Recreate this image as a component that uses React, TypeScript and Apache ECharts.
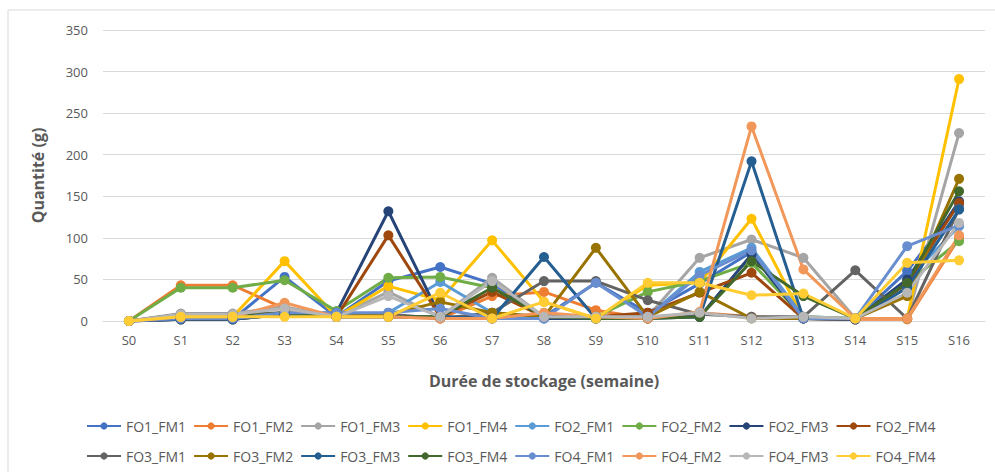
import React, { useEffect, useRef } from "react";
import * as echarts from "echarts";

const categories = ["S0","S1","S2","S3","S4","S5","S6","S7","S8","S9","S10","S11","S12","S13","S14","S15","S16"];
const yTicks = [0, 50, 100, 150, 200, 250, 300, 350];

const seriesNames = [
  "FO1_FM1","FO1_FM2","FO1_FM3","FO1_FM4","FO2_FM1","FO2_FM2","FO2_FM3","FO2_FM4",
  "FO3_FM1","FO3_FM2","FO3_FM3","FO3_FM4","FO4_FM1","FO4_FM2","FO4_FM3","FO4_FM4",
];
const seriesColors = [
  "#4472C4","#ED7D31","#A5A5A5","#FFC000","#5B9BD5","#70AD47","#264478","#9E480E",
  "#636363","#997300","#255E91","#43682B","#698ED0","#F1975A","#B7B7B7","#FFCD33",
];

const FO1_FM1 = [0, 2, 2, 53, 5, 48, 65, 45, 5, 46, 10, 45, 83, 3, 2, 60, 140];
const FO1_FM2 = [0, 43, 43, 15, 5, 5, 3, 30, 35, 13, 3, 10, 5, 3, 2, 2, 100];
const FO1_FM3 = [0, 9, 9, 17, 5, 35, 5, 52, 5, 5, 5, 76, 98, 76, 3, 3, 226];
const FO1_FM4 = [0, 5, 5, 72, 5, 42, 25, 97, 23, 3, 43, 46, 123, 3, 3, 3, 291];
const FO2_FM1 = [0, 3, 3, 10, 5, 10, 47, 10, 5, 5, 5, 59, 88, 5, 3, 50, 114];
const FO2_FM2 = [0, 40, 40, 49, 12, 52, 53, 40, 5, 5, 35, 48, 70, 5, 3, 45, 96];
const FO2_FM3 = [0, 2, 2, 8, 10, 132, 5, 3, 3, 3, 5, 5, 80, 3, 2, 50, 144];
const FO2_FM4 = [0, 2, 2, 8, 5, 103, 5, 35, 5, 5, 10, 34, 58, 3, 2, 45, 142];
const FO3_FM1 = [0, 8, 8, 10, 5, 8, 3, 10, 48, 48, 25, 8, 5, 5, 61, 3, 135];
const FO3_FM2 = [0, 5, 5, 10, 5, 8, 23, 10, 5, 88, 5, 35, 3, 3, 3, 30, 171];
const FO3_FM3 = [0, 2, 2, 8, 5, 5, 5, 3, 77, 3, 3, 5, 192, 3, 2, 40, 134];
const FO3_FM4 = [0, 5, 5, 10, 5, 5, 5, 40, 5, 3, 3, 5, 72, 30, 3, 46, 156];
const FO4_FM1 = [0, 3, 3, 10, 10, 10, 15, 3, 3, 46, 5, 55, 85, 3, 3, 90, 115];
const FO4_FM2 = [0, 5, 5, 22, 5, 5, 3, 3, 10, 5, 3, 11, 234, 62, 3, 3, 103];
const FO4_FM3 = [0, 8, 8, 15, 5, 30, 5, 48, 5, 5, 5, 10, 3, 5, 3, 34, 118];
const FO4_FM4 = [0, 5, 5, 5, 5, 5, 34, 3, 23, 3, 46, 46, 31, 33, 3, 70, 73];

const seriesValues = [
  FO1_FM1, FO1_FM2, FO1_FM3, FO1_FM4, FO2_FM1, FO2_FM2, FO2_FM3, FO2_FM4,
  FO3_FM1, FO3_FM2, FO3_FM3, FO3_FM4, FO4_FM1, FO4_FM2, FO4_FM3, FO4_FM4,
];

const FONT = "'Open Sans', sans-serif";
const TXT = "#595959";

export default function App() {
  const ref = useRef<HTMLDivElement>(null);
  useEffect(() => {
    if (!ref.current) return;
    const chart = echarts.init(ref.current, undefined, { renderer: "svg" });
    const legendCommon = {
      left: 81,
      orient: "horizontal" as const,
      itemWidth: 34,
      itemHeight: 9,
      itemGap: 7,
      textStyle: { color: TXT, fontSize: 14, fontFamily: FONT },
      selectedMode: false,
    };
    chart.setOption({
      animation: false,
      backgroundColor: "#ffffff",
      textStyle: { fontFamily: FONT },
      grid: { left: 103, right: 10, top: 30, bottom: 151, containLabel: false },
      graphic: [
        {
          type: "rect",
          shape: { x: 8, y: 10, width: 990, height: 470 },
          style: { fill: "none", stroke: "#d9d9d9", lineWidth: 1 },
          silent: true,
        },
      ],
      legend: [
        { ...legendCommon, top: 414, data: seriesNames.slice(0, 8) },
        { ...legendCommon, top: 444, data: seriesNames.slice(8) },
      ],
      xAxis: {
        type: "category",
        data: categories,
        boundaryGap: true,
        name: "Durée de stockage (semaine)",
        nameLocation: "middle",
        nameGap: 52,
        nameTextStyle: { color: TXT, fontSize: 16, fontWeight: "bold", fontFamily: FONT },
        axisLine: { show: true, lineStyle: { color: "#d9d9d9", width: 1 } },
        axisTick: { show: false },
        axisLabel: { color: TXT, fontSize: 13, margin: 12, fontFamily: FONT },
      },
      yAxis: {
        type: "value",
        min: yTicks[0],
        max: yTicks[yTicks.length - 1],
        interval: 50,
        name: "Quantité (g)",
        nameLocation: "middle",
        nameGap: 57,
        nameRotate: 90,
        nameTextStyle: { color: TXT, fontSize: 16, fontWeight: "bold", fontFamily: FONT },
        axisLine: { show: false },
        axisTick: { show: false },
        axisLabel: { color: TXT, fontSize: 13, margin: 15, fontFamily: FONT },
        splitLine: { show: true, lineStyle: { color: "#d9d9d9", width: 1 } },
      },
      series: seriesNames.map((name, i) => ({
        name,
        type: "line",
        data: seriesValues[i],
        color: seriesColors[i],
        symbol: "circle",
        symbolSize: 10,
        showSymbol: true,
        lineStyle: { width: 3, color: seriesColors[i] },
        itemStyle: { color: seriesColors[i] },
      })),
    });
    return () => chart.dispose();
  }, []);
  return (
    <div
      ref={ref}
      style={{ position: "fixed", left: 0, top: 0, width: 995, height: 472, background: "#fff" }}
    />
  );
}
